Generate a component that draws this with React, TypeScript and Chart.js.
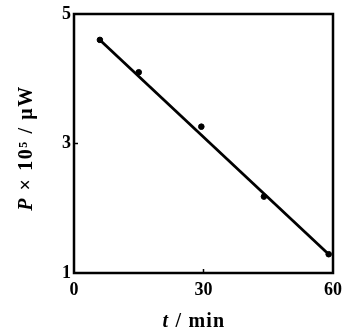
import React, { useEffect, useRef } from "react";
import { Chart, registerables } from "chart.js";

Chart.register(...registerables);

// Measured points: time (min) vs power (×10^5 μW)
const timeMin = [6, 15, 29.5, 44, 59];
const powerValues = [4.6, 4.1, 3.26, 2.18, 1.29];
// Fitted straight line end points
const fitLineX = [6, 59.3];
const fitLineY = [4.6, 1.27];
// Axis ticks
const xTickValues = [0, 30, 60];
const yTickValues = [1, 3, 5];
const xTitleParts = [
  { text: "t", italic: true },
  { text: " / min", italic: false },
];
const yTitleParts = [
  { text: "P", italic: true },
  { text: " × 10⁵ / μW", italic: false },
];

const FONT_FAMILY = "'Liberation Serif', 'DejaVu Serif', serif";

function drawParts(
  ctx: CanvasRenderingContext2D,
  parts: { text: string; italic: boolean }[],
  cx: number,
  baseline: number,
  size: number,
  spacing: number
) {
  const fontFor = (it: boolean) => `${it ? "italic " : ""}bold ${size}px ${FONT_FAMILY}`;
  (ctx as any).letterSpacing = `${spacing}px`;
  let total = 0;
  const widths = parts.map((p) => {
    ctx.font = fontFor(p.italic);
    const w = ctx.measureText(p.text).width;
    total += w;
    return w;
  });
  let x = cx - total / 2;
  ctx.textBaseline = "alphabetic";
  ctx.textAlign = "left";
  parts.forEach((p, i) => {
    ctx.font = fontFor(p.italic);
    ctx.fillText(p.text, x, baseline);
    x += widths[i];
  });
  (ctx as any).letterSpacing = "0px";
}

const framePlugin = {
  id: "frameAndTitles",
  afterDraw(chart: any) {
    const { ctx, chartArea } = chart;
    const { left, right, top, bottom } = chartArea;
    const xs = chart.scales.x;
    const ys = chart.scales.y;
    ctx.save();
    ctx.strokeStyle = "#000";
    ctx.lineWidth = 2.5;
    ctx.strokeRect(left, top, right - left, bottom - top);
    // inward ticks
    ctx.lineWidth = 1.5;
    xTickValues.slice(1, -1).forEach((v) => {
      const px = xs.getPixelForValue(v);
      ctx.beginPath();
      ctx.moveTo(px, bottom);
      ctx.lineTo(px, bottom - 4);
      ctx.stroke();
    });
    yTickValues.slice(1, -1).forEach((v) => {
      const py = ys.getPixelForValue(v);
      ctx.beginPath();
      ctx.moveTo(left, py);
      ctx.lineTo(left + 4, py);
      ctx.stroke();
    });
    ctx.fillStyle = "#000";
    drawParts(ctx, xTitleParts, 194, 327, 20, 1.2);
    ctx.save();
    ctx.translate(32, 148);
    ctx.rotate(-Math.PI / 2);
    drawParts(ctx, yTitleParts, 0, 0, 20, 1.6);
    ctx.restore();
    ctx.restore();
  },
};

export default function App() {
  const ref = useRef<HTMLCanvasElement | null>(null);
  useEffect(() => {
    if (!ref.current) return;
    const chart = new Chart(ref.current, {
      type: "scatter",
      data: {
        datasets: [
          {
            type: "line",
            label: "fit",
            data: fitLineX.map((x, i) => ({ x, y: fitLineY[i] })),
            borderColor: "#000",
            borderWidth: 2.8,
            pointRadius: 0,
            fill: false,
          },
          {
            type: "scatter",
            label: "measured",
            data: timeMin.map((x, i) => ({ x, y: powerValues[i] })),
            backgroundColor: "#000",
            borderColor: "#000",
            pointRadius: 2.8,
          },
        ],
      },
      options: {
        responsive: false,
        animation: false,
        layout: { padding: { top: 14, right: 11, left: 0, bottom: 0 } },
        plugins: {
          legend: { display: false },
          tooltip: { enabled: false },
        },
        scales: {
          x: {
            type: "linear",
            min: 0,
            max: 60,
            afterBuildTicks: (s: any) => {
              s.ticks = xTickValues.map((v) => ({ value: v }));
            },
            afterFit: (s: any) => {
              s.height = 58;
              s.paddingLeft = 0;
              s.paddingRight = 0;
            },
            grid: { display: false, drawTicks: false },
            border: { display: false },
            ticks: {
              color: "#000",
              padding: 7,
              maxRotation: 0,
              font: { family: FONT_FAMILY, size: 18, weight: "bold" },
            },
          },
          y: {
            type: "linear",
            min: 1,
            max: 5,
            afterBuildTicks: (s: any) => {
              s.ticks = yTickValues.map((v) => ({ value: v }));
            },
            afterFit: (s: any) => {
              s.width = 74;
              s.paddingTop = 0;
              s.paddingBottom = 0;
            },
            grid: { display: false, drawTicks: false },
            border: { display: false },
            ticks: {
              color: "#000",
              padding: 3,
              font: { family: FONT_FAMILY, size: 18, weight: "bold" },
            },
          },
        },
      },
      plugins: [framePlugin],
    } as any);
    return () => chart.destroy();
  }, []);
  return (
    <div style={{ position: "fixed", left: 0, top: 0, width: 344, height: 331, background: "#fff" }}>
      <canvas ref={ref} width={344} height={331} style={{ width: 344, height: 331 }} />
    </div>
  );
}
